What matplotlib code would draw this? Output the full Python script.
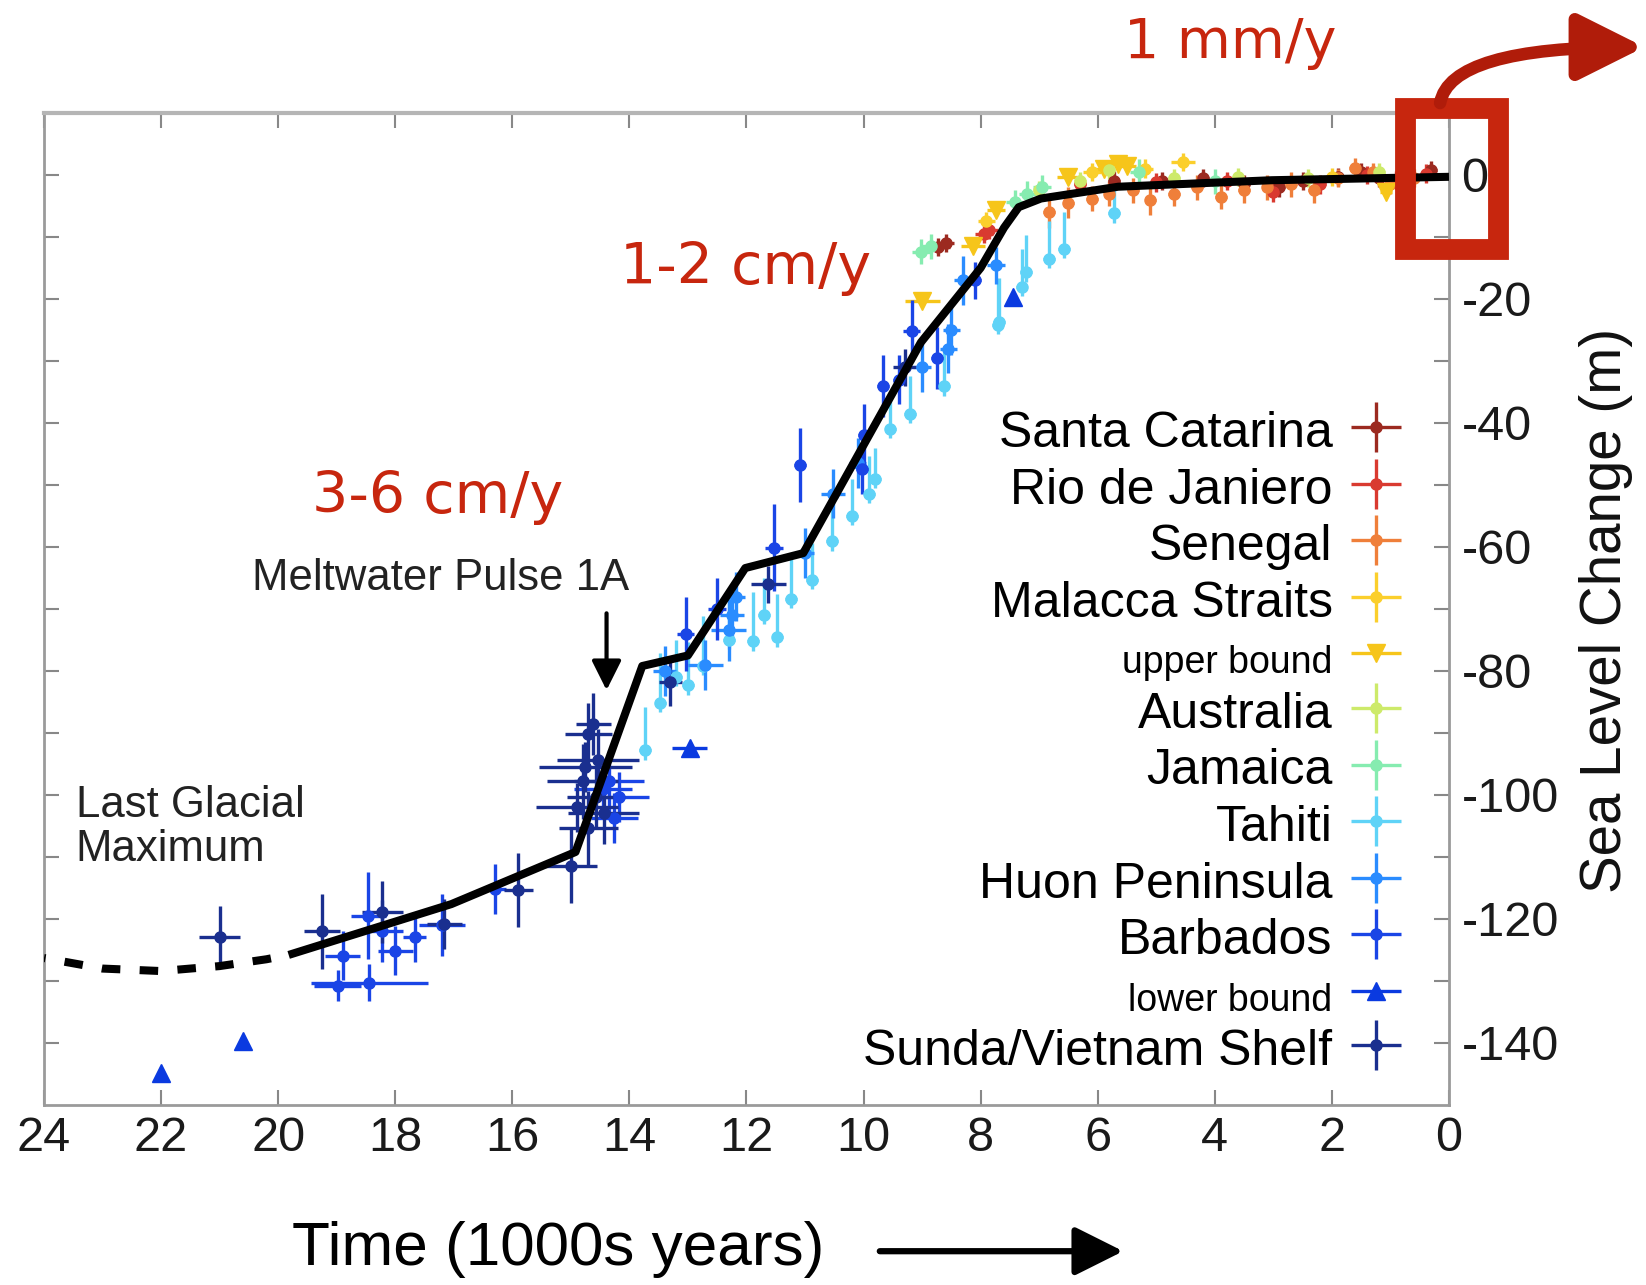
import matplotlib
matplotlib.use("Agg")
import matplotlib.pyplot as plt
from matplotlib.patches import Rectangle, FancyArrowPatch
import numpy as np

plt.rcParams['font.family'] = ['Liberation Sans', 'DejaVu Sans']

# ---------------- data (ages in ka, sea level in m) ----------------
sc_age = [8.73, 8.6, 5.72, 4.9, 4.2, 3.5, 2.9, 2.5, 1.9, 1.5, 1.2, 0.3]
sc_sl = [-11.6, -11.0, -0.9, -1.0, -0.5, -1.5, -2.0, -1.0, -0.3, 0.5, -0.5, 0.8]
sc_xe = [0.2, 0.15, 0.1, 0.1, 0.1, 0.1, 0.1, 0.1, 0.1, 0.1, 0.1, 0.1]
sc_ye = [1.5, 1.5, 1.5, 1.5, 1.5, 1.5, 1.5, 1.5, 1.5, 1.5, 1.5, 1.5]

rj_age = [7.94, 7.85, 6.3, 5.0, 3.8, 3.0, 2.2, 1.4, 0.9, 0.4]
rj_sl = [-9.5, -8.8, -1.5, -1.2, -1.0, -2.8, -1.5, 0.0, -0.8, 0.2]
rj_xe = [0.15, 0.15, 0.1, 0.1, 0.1, 0.1, 0.1, 0.1, 0.1, 0.1]
rj_ye = [1.5, 1.5, 1.5, 1.5, 1.5, 1.5, 1.5, 1.5, 1.5, 1.5]

sn_age = [6.83, 6.5, 6.1, 5.8, 5.4, 5.1, 4.7, 4.3, 3.9, 3.5, 3.1, 2.7, 2.3, 1.9, 1.6, 1.3, 1.0, 0.6]
sn_sl = [-6.0, -4.5, -3.8, -3.0, -2.5, -4.0, -3.0, -2.0, -3.5, -2.5, -2.0, -1.5, -2.5, -0.5, 1.2, 0.5, -1.5, -0.5]
sn_xe = [0.1] * 18
sn_ye = [2.5, 2.5, 2.0, 2.0, 2.0, 2.5, 2.0, 2.0, 2.0, 2.0, 2.0, 2.0, 2.0, 1.5, 1.5, 1.5, 1.5, 1.5]

ms_age = [7.9, 6.1, 5.2, 4.54, 2.0, 0.8]
ms_sl = [-7.5, 0.5, 1.0, 2.1, -0.3, -2.5]
ms_xe = [0.15, 0.15, 0.15, 0.2, 0.1, 0.1]
ms_ye = [1.5, 1.5, 1.5, 1.5, 1.5, 1.5]

ub_age = [9.0, 8.13, 7.74, 6.5, 5.9, 5.65, 5.5, 1.07]
ub_sl = [-20.3, -11.4, -5.7, -0.3, 1.0, 1.8, 1.5, -2.7]
ub_xe = [0.3, 0.2, 0.15, 0.2, 0.15, 0.2, 0.15, 0.1]

au_age = [7.0, 6.3, 5.8, 4.7, 3.6, 2.4, 1.2]
au_sl = [-2.5, -1.0, 0.8, -0.5, -0.3, -0.5, 0.5]
au_xe = [0.1] * 7
au_ye = [1.5] * 7

ja_age = [9.02, 8.85, 7.42, 7.2, 6.95, 5.3, 4.0]
ja_sl = [-12.4, -11.5, -4.4, -3.0, -2.0, 0.5, -1.0]
ja_xe = [0.15] * 7
ja_ye = [2.0] * 7

ta_age = [13.73, 13.47, 13.2, 13.0, 12.74, 12.3, 11.89, 11.7, 11.47, 11.24, 10.88, 10.54, 10.2,
          9.9, 9.8, 9.54, 9.21, 8.62, 7.71, 7.69, 7.3, 7.22, 6.83, 6.57, 5.72]
ta_sl = [-92.8, -85.1, -81.0, -82.3, -79.2, -75.0, -75.2, -71.0, -74.6, -68.4, -65.3, -59.1, -55.0,
         -51.4, -49.0, -40.9, -38.5, -34.1, -24.2, -23.7, -18.0, -15.7, -13.5, -11.9, -6.2]
ta_xe = [0.1] * 25
ta_ye_lo = [1.5] * 25
ta_ye_hi = [7, 8, 6, 7, 8, 8, 8, 6, 7, 7, 6, 6, 6, 6, 5, 6, 6, 6, 7, 7, 6, 6, 6, 6, 4]

hu_age = [13.4, 12.7, 12.3, 12.25, 12.18, 11.0, 10.52, 10.1, 9.0, 8.55, 8.5, 8.3, 7.74]
hu_sl = [-80.0, -79.0, -73.4, -71.0, -68.0, -61.0, -51.4, -46.5, -31.0, -28.0, -25.0, -17.0, -14.6]
hu_xe = [0.2, 0.3, 0.3, 0.2, 0.15, 0.15, 0.2, 0.15, 0.15, 0.15, 0.15, 0.15, 0.15]
hu_ye = [4, 4, 5, 4, 4, 4, 4, 4, 4, 4, 4, 4, 3]

ba_age = [18.98, 18.44, 18.9, 18.46, 18.22, 18.0, 17.67, 17.2, 16.3, 14.17, 14.26, 14.35, 14.45,
          13.04, 12.5, 11.53, 11.08, 10.03, 10.0, 9.67, 9.4, 9.18, 8.75, 8.1]
ba_sl = [-130.8, -130.3, -125.9, -119.5, -122.0, -125.1, -122.9, -121.0, -115.2, -100.3, -103.7, -97.8,
         -99.0, -74.0, -70.0, -60.1, -46.8, -47.4, -42.0, -34.1, -33.0, -25.2, -29.5, -17.0]
ba_xe = [0.4, 1.0, 0.3, 0.3, 0.35, 0.3, 0.2, 0.4, 0.2, 0.5, 0.4, 0.6, 0.5,
         0.15, 0.15, 0.15, 0.1, 0.1, 0.1, 0.1, 0.1, 0.15, 0.1, 0.1]
ba_ye = [2.5, 3, 4, 7, 5, 4, 4, 5, 4, 4, 4, 5, 4, 6, 5, 7, 6, 4, 5, 5, 4, 5, 5, 3]

lb_age = [22.0, 20.6, 12.97, 7.44]
lb_sl = [-144.9, -139.7, -92.4, -19.7]
lb_xe = [0.0, 0.0, 0.3, 0.0]

su_age = [21.0, 19.25, 18.22, 17.16, 15.9, 15.0, 14.7, 14.53, 14.8, 14.57, 14.89, 14.44, 14.7,
          14.62, 14.75, 13.3, 11.63, 9.3]
su_sl = [-122.9, -122.0, -118.8, -120.8, -115.3, -111.4, -90.2, -94.4, -97.8, -100.3, -102.0, -102.9,
         -105.4, -88.5, -95.5, -81.7, -66.0, -31.0]
su_xe = [0.35, 0.3, 0.35, 0.3, 0.25, 0.45, 0.4, 0.7, 0.6, 0.5, 0.7, 0.6, 0.5, 0.3, 0.8, 0.2, 0.3, 0.2]
su_ye = [5, 6, 5, 4, 6, 6, 5, 5, 6, 5, 4, 5, 6, 5, 4, 4, 3, 3]

fit_age = [19.82, 17.04, 14.92, 13.78, 13.0, 12.02, 11.03, 9.02, 8.0, 7.6, 7.35, 6.97, 5.65, 3.03, 0.0]
fit_sl = [-125.8, -117.6, -109.2, -79.2, -77.5, -63.4, -61.0, -27.0, -15.0, -8.5, -5.2, -3.8, -1.9, -0.85, -0.3]
lgm_age = [24.0, 23.0, 22.0, 21.0, 20.2, 19.82]
lgm_sl = [-126.3, -128.0, -128.4, -127.6, -126.5, -125.8]

x_ticks = [24, 22, 20, 18, 16, 14, 12, 10, 8, 6, 4, 2, 0]
y_ticks = [0, -20, -40, -60, -80, -100, -120, -140]

# ---------------- figure ----------------
fig = plt.figure(figsize=(16.46, 12.85), dpi=100)
ax = fig.add_axes([0.0267, 0.1401, 0.8536, 0.772])
ax.set_xlim(24, 0)
ax.set_ylim(-150, 10)

ekw = dict(capsize=0, elinewidth=2.4, linestyle='none')
dot = 8
tri = 13
handles = []
h = ax.errorbar(sc_age, sc_sl, xerr=sc_xe, yerr=sc_ye, fmt='o', ms=dot, color='#9c2a20', label='Santa Catarina', **ekw); handles.append(h)
h = ax.errorbar(rj_age, rj_sl, xerr=rj_xe, yerr=rj_ye, fmt='o', ms=dot, color='#d93a30', label='Rio de Janiero', **ekw); handles.append(h)
h = ax.errorbar(sn_age, sn_sl, xerr=sn_xe, yerr=sn_ye, fmt='o', ms=dot, color='#ef7f3a', label='Senegal', **ekw); handles.append(h)
h = ax.errorbar(ms_age, ms_sl, xerr=ms_xe, yerr=ms_ye, fmt='o', ms=dot, color='#fbcf2c', label='Malacca Straits', **ekw); handles.append(h)
h = ax.errorbar(ub_age, ub_sl, xerr=ub_xe, fmt='v', ms=tri, color='#f6c51a', label='upper bound', **ekw); handles.append(h)
h = ax.errorbar(au_age, au_sl, xerr=au_xe, yerr=au_ye, fmt='o', ms=dot, color='#cdea6a', label='Australia', **ekw); handles.append(h)
h = ax.errorbar(ja_age, ja_sl, xerr=ja_xe, yerr=ja_ye, fmt='o', ms=dot, color='#86ecb0', label='Jamaica', **ekw); handles.append(h)
h = ax.errorbar(ta_age, ta_sl, xerr=ta_xe, yerr=[ta_ye_lo, ta_ye_hi], fmt='o', ms=dot, color='#5fd3f7', label='Tahiti', **ekw); handles.append(h)
h = ax.errorbar(hu_age, hu_sl, xerr=hu_xe, yerr=hu_ye, fmt='o', ms=dot, color='#2a8cff', label='Huon Peninsula', **ekw); handles.append(h)
h = ax.errorbar(ba_age, ba_sl, xerr=ba_xe, yerr=ba_ye, fmt='o', ms=dot, color='#1a45e6', label='Barbados', **ekw); handles.append(h)
h = ax.errorbar(lb_age, lb_sl, xerr=lb_xe, fmt='^', ms=tri, color='#0a3ae0', label='lower bound', **ekw); handles.append(h)
h = ax.errorbar(su_age, su_sl, xerr=su_xe, yerr=su_ye, fmt='o', ms=dot, color='#1a2f8f', label='Sunda/Vietnam Shelf', **ekw); handles.append(h)

# fitted curve
ax.plot(fit_age, fit_sl, color='black', lw=5.8, zorder=10, solid_joinstyle='round', solid_capstyle='butt')
ax.plot(lgm_age, lgm_sl, color='black', lw=5.8, zorder=10, linestyle=(2.1, (2.3, 2.4)),
        dash_capstyle='butt')

# axes styling
for s in ax.spines.values():
    s.set_color('#9a9a9a')
    s.set_linewidth(2)
ax.spines['top'].set_color('#b5b5b5')
ax.spines['top'].set_linewidth(3)

ax.set_xticks(x_ticks)
ax.set_xticklabels([str(v) for v in x_ticks])
ax.set_yticks(y_ticks)
ax.set_yticklabels([str(v) for v in y_ticks])
ax.set_yticks(np.arange(-130, 10, 20), minor=True)
ax.tick_params(axis='both', which='both', direction='in', length=11, width=1.5,
               color='#888888', labelsize=35, labelcolor='#1a1a1a')
ax.tick_params(axis='y', which='both', left=True, right=True, labelleft=False, labelright=True, pad=9)
ax.tick_params(axis='x', which='both', top=True, bottom=True, pad=8)

# legend
leg = ax.legend(handles=handles, loc='lower right', bbox_to_anchor=(0.968, 0.030),
                frameon=False, markerfirst=False, fontsize=36, borderpad=0, borderaxespad=0,
                labelspacing=0.135, handlelength=1.13, handletextpad=0.3, handleheight=1.02)
for t in leg.get_texts():
    if t.get_text() in ('upper bound', 'lower bound'):
        t.set_fontsize(27)

# annotations
ax.text(14.0, -65.1, 'Meltwater Pulse 1A', ha='right', va='center', fontsize=31.5, color='#222222')
ax.annotate('', xy=(14.39, -83.1), xytext=(14.39, -70.7),
            arrowprops=dict(arrowstyle='-|>', lw=3, color='black', mutation_scale=45,
                            shrinkA=0, shrinkB=0))
ax.text(23.46, -105.3, 'Last Glacial\nMaximum', ha='left', va='center', fontsize=31.5,
        color='#222222', linespacing=1.1)

red = '#C7260E'
fig.text(0.7473, 0.9665, '1 mm/y', ha='center', va='center', fontsize=40, color=red, family='DejaVu Sans')
fig.text(0.4527, 0.7914, '1-2 cm/y', ha='center', va='center', fontsize=41, color=red, family='DejaVu Sans')
fig.text(0.2660, 0.6125, '3-6 cm/y', ha='center', va='center', fontsize=41, color=red, family='DejaVu Sans')

# red box around the present
ax.add_patch(Rectangle((0.75, -11.9), -1.59, 22.7, fill=False, edgecolor=red, lw=15,
                       clip_on=False, zorder=20, joinstyle='miter'))

# curved arrow
fig.add_artist(FancyArrowPatch((0.8749, 0.9198), (0.999, 0.9634), transform=fig.transFigure,
                               connectionstyle='angle3,angleA=80,angleB=0',
                               arrowstyle='-|>', mutation_scale=100, lw=9, color='#B01C0A',
                               shrinkA=0, shrinkB=0))

# axis titles
fig.text(0.339, 0.028, 'Time (1000s years)', ha='center', va='center', fontsize=44.7, color='black')
fig.add_artist(FancyArrowPatch((0.5345, 0.0263), (0.6824, 0.0263), transform=fig.transFigure,
                               arrowstyle='-|>', mutation_scale=75, lw=4.5, color='black',
                               shrinkA=0, shrinkB=0))
fig.text(0.9757, 0.5253, 'Sea Level Change (m)', ha='center', va='center', rotation=90,
         fontsize=40.7, color='#111111')

fig.savefig('out.png', dpi=100)
